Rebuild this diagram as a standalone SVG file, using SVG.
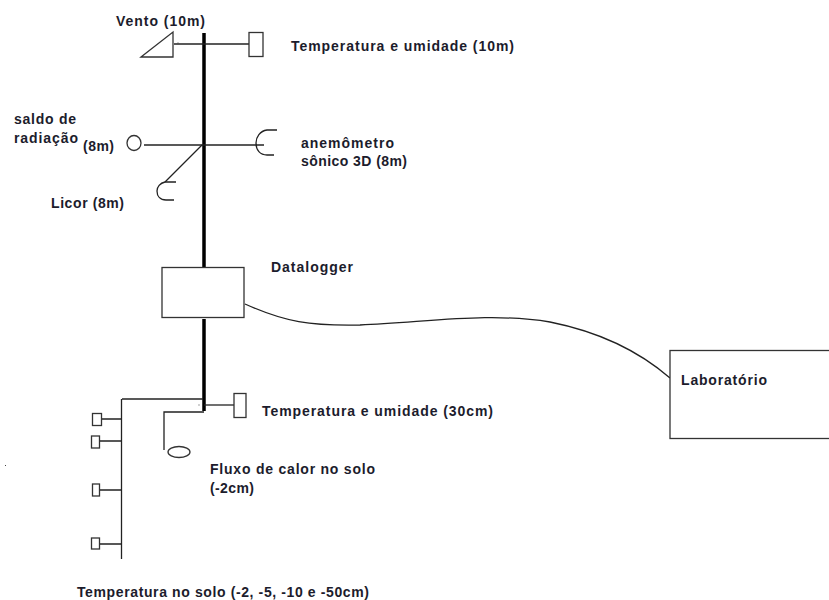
<svg xmlns="http://www.w3.org/2000/svg" width="829" height="600" viewBox="0 0 829 600">
<style>
.l{fill:none;stroke:#222;stroke-width:1.3}
.b{fill:#fff;stroke:#333;stroke-width:1.3}
.d{fill:#444}
.t{font-family:"Liberation Sans",Arial,sans-serif;font-size:14px;font-weight:bold;fill:#1c1c2c}
</style>
<rect width="829" height="600" fill="#fff"/>
<g id="connectors">
<path d="M204 33V267M204 319V411" fill="none" stroke="#000" stroke-width="3.500"/>
<path class="l" d="M174 44H252"/>
<path class="l" d="M144 145H264"/>
<path class="l" d="M202 145L165 182"/>
<path class="l" d="M122 399H203"/>
<path class="l" d="M164 450V412H204"/>
<path class="l" d="M204 405H234"/>
<path class="l" d="M121.500 399V559"/>
<path class="l" d="M98 419H122M99 441H122M100 490H122M98 544H122"/>
<path class="l" d="M245 304C285 322 310 326 360 325C430 322 490 312 550 322C600 332 640 352 670 378"/>
<rect class="d" x="177.500" y="42.500" width="1" height="1"/>
<rect class="d" x="198.500" y="404.500" width="1" height="1"/>
<rect class="d" x="5" y="465" width="1" height="1"/>
</g>
<g id="vento"><path class="b" d="M141 57L173 32V57Z"/><text class="t" x="116" y="26" textLength="89">Vento (10m)</text></g>
<g id="temp10"><rect class="b" x="249" y="32.500" width="14" height="24"/><text class="t" x="291" y="51" textLength="223">Temperatura e umidade (10m)</text></g>
<g id="saldo"><ellipse class="b" cx="134" cy="143" rx="7" ry="7.500"/><text class="t" x="14" y="124" textLength="62">saldo de</text><text class="t" x="14" y="143" textLength="64">radiação</text><text class="t" x="83" y="151" textLength="31">(8m)</text></g>
<g id="anemometro"><path class="l" d="M277 130H267C260 131 256 137 256 143C256 150 260 155 267 155H274"/><text class="t" x="301" y="148" textLength="93">anemômetro</text><text class="t" x="301" y="166" textLength="106">sônico 3D (8m)</text></g>
<g id="licor"><path class="l" d="M176 182H165C160 183 157 187 157 191C157 196 160 200 166 200H174"/><text class="t" x="51" y="208" textLength="73">Licor (8m)</text></g>
<g id="datalogger"><rect class="b" x="162" y="267.500" width="82" height="50"/><text class="t" x="271" y="272" textLength="82">Datalogger</text></g>
<g id="laboratorio"><rect class="b" x="670" y="350.500" width="165" height="88"/><text class="t" x="681" y="385" textLength="86">Laboratório</text></g>
<g id="temp30"><rect class="b" x="234" y="393.500" width="12" height="24"/><text class="t" x="262" y="416" textLength="231">Temperatura e umidade (30cm)</text></g>
<g id="fluxo"><ellipse class="b" cx="179" cy="452" rx="11" ry="5.500"/><text class="t" x="210" y="474" textLength="165">Fluxo de calor no solo</text><text class="t" x="210" y="493" textLength="44">(-2cm)</text></g>
<g id="solo"><rect class="b" x="92.500" y="413.500" width="9" height="12"/><rect class="b" x="91.500" y="436" width="8" height="12"/><rect class="b" x="92.500" y="484" width="7" height="12"/><rect class="b" x="91.500" y="538" width="8" height="11"/><text class="t" x="77" y="597" textLength="292">Temperatura no solo (-2, -5, -10 e -50cm)</text></g>
</svg>
